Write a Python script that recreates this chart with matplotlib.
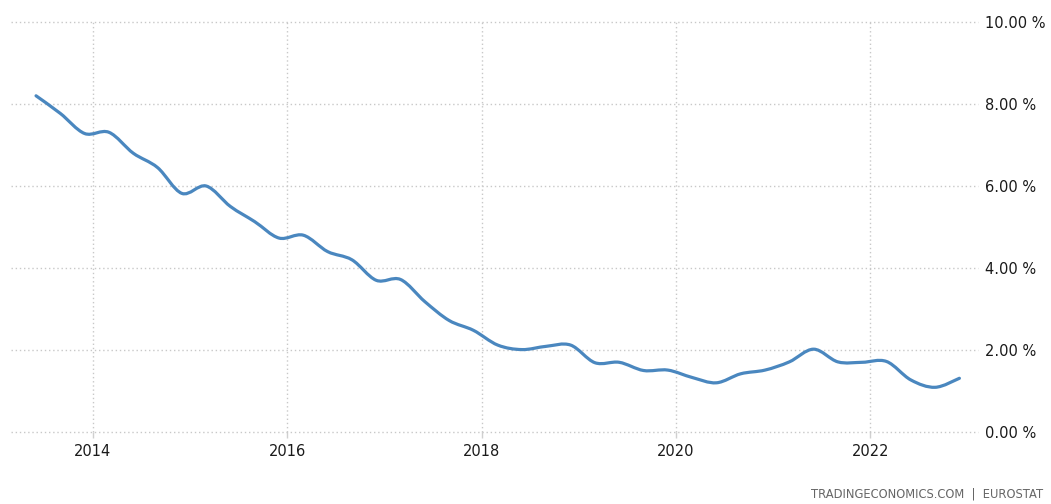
import matplotlib
matplotlib.use("Agg")
import matplotlib.pyplot as plt
import numpy as np
from matplotlib.path import Path
from matplotlib.patches import PathPatch

# ---- data (quarterly) ----
periods = ["2013-06", "2013-09", "2013-12",
           "2014-03", "2014-06", "2014-09", "2014-12",
           "2015-03", "2015-06", "2015-09", "2015-12",
           "2016-03", "2016-06", "2016-09", "2016-12",
           "2017-03", "2017-06", "2017-09", "2017-12",
           "2018-03", "2018-06", "2018-09", "2018-12",
           "2019-03", "2019-06", "2019-09", "2019-12",
           "2020-03", "2020-06", "2020-09", "2020-12",
           "2021-03", "2021-06", "2021-09", "2021-12",
           "2022-03", "2022-06", "2022-09", "2022-12"]
values = [8.20, 7.77, 7.28,
          7.31, 6.80, 6.45, 5.82,
          6.00, 5.50, 5.13, 4.73,
          4.80, 4.40, 4.20, 3.70,
          3.72, 3.18, 2.72, 2.48,
          2.12, 2.01, 2.09, 2.12,
          1.69, 1.70, 1.50, 1.51,
          1.33, 1.20, 1.42, 1.51,
          1.71, 2.02, 1.71, 1.70,
          1.72, 1.27, 1.09, 1.31]
x_ticks = [2014, 2016, 2018, 2020, 2022]
x_tick_labels = ["2014", "2016", "2018", "2020", "2022"]
y_ticks = [0, 2, 4, 6, 8, 10]
y_tick_labels = ["0.00 %", "2.00 %", "4.00 %", "6.00 %", "8.00 %", "10.00 %"]
source_text = "TRADINGECONOMICS.COM  |  EUROSTAT"

# decimal-year positions for each period
t = np.array([int(p[:4]) + (int(p[5:]) - 1) / 12.0 for p in periods])
v = np.array(values)

fig = plt.figure(figsize=(10.51, 5.04), dpi=100)
ax = fig.add_axes([11 / 1051, (504 - 432) / 504, (978 - 11) / 1051, 410 / 504])

# smooth (Catmull-Rom as cubic Bezier) line through the data points
pts = np.column_stack([t, v])
ext = np.vstack([pts[0], pts, pts[-1]])
verts = [tuple(pts[0])]
codes = [Path.MOVETO]
for i in range(len(pts) - 1):
    p0, p1, p2, p3 = ext[i], ext[i + 1], ext[i + 2], ext[i + 3]
    c1 = p1 + (p2 - p0) / 6.0
    c2 = p2 - (p3 - p1) / 6.0
    verts += [tuple(c1), tuple(c2), tuple(p2)]
    codes += [Path.CURVE4] * 3
patch = PathPatch(Path(verts, codes), facecolor="none", edgecolor="#4a87bf",
                  lw=2.3, capstyle="round", joinstyle="round", zorder=3)
ax.add_patch(patch)

ax.set_xlim(2013.159, 2023.108)
ax.set_ylim(0, 10)

ax.set_xticks(x_ticks)
ax.set_xticklabels(x_tick_labels)
ax.set_yticks(y_ticks)
ax.set_yticklabels(y_tick_labels)
ax.yaxis.tick_right()

for s in ax.spines.values():
    s.set_visible(False)

ax.grid(True, color="#c8c8c8", linestyle=(0, (1, 2)), linewidth=1.0)
ax.set_axisbelow(True)
for gl in ax.get_xgridlines() + ax.get_ygridlines():
    gl.set_clip_on(False)

ax.tick_params(axis="x", length=4, width=1, color="#d0d0d0", pad=5,
               labelsize=10.5, labelcolor="#1a1a1a")
ax.tick_params(axis="y", length=0, pad=5, labelsize=10.5, labelcolor="#1a1a1a")
for lab in ax.get_yticklabels():
    lab.set_horizontalalignment("left")

fig.text(1043 / 1051, 1 - 494 / 504, source_text, ha="right", va="center",
         fontsize=8.3, color="#666666")

fig.savefig("out.png", dpi=100)
